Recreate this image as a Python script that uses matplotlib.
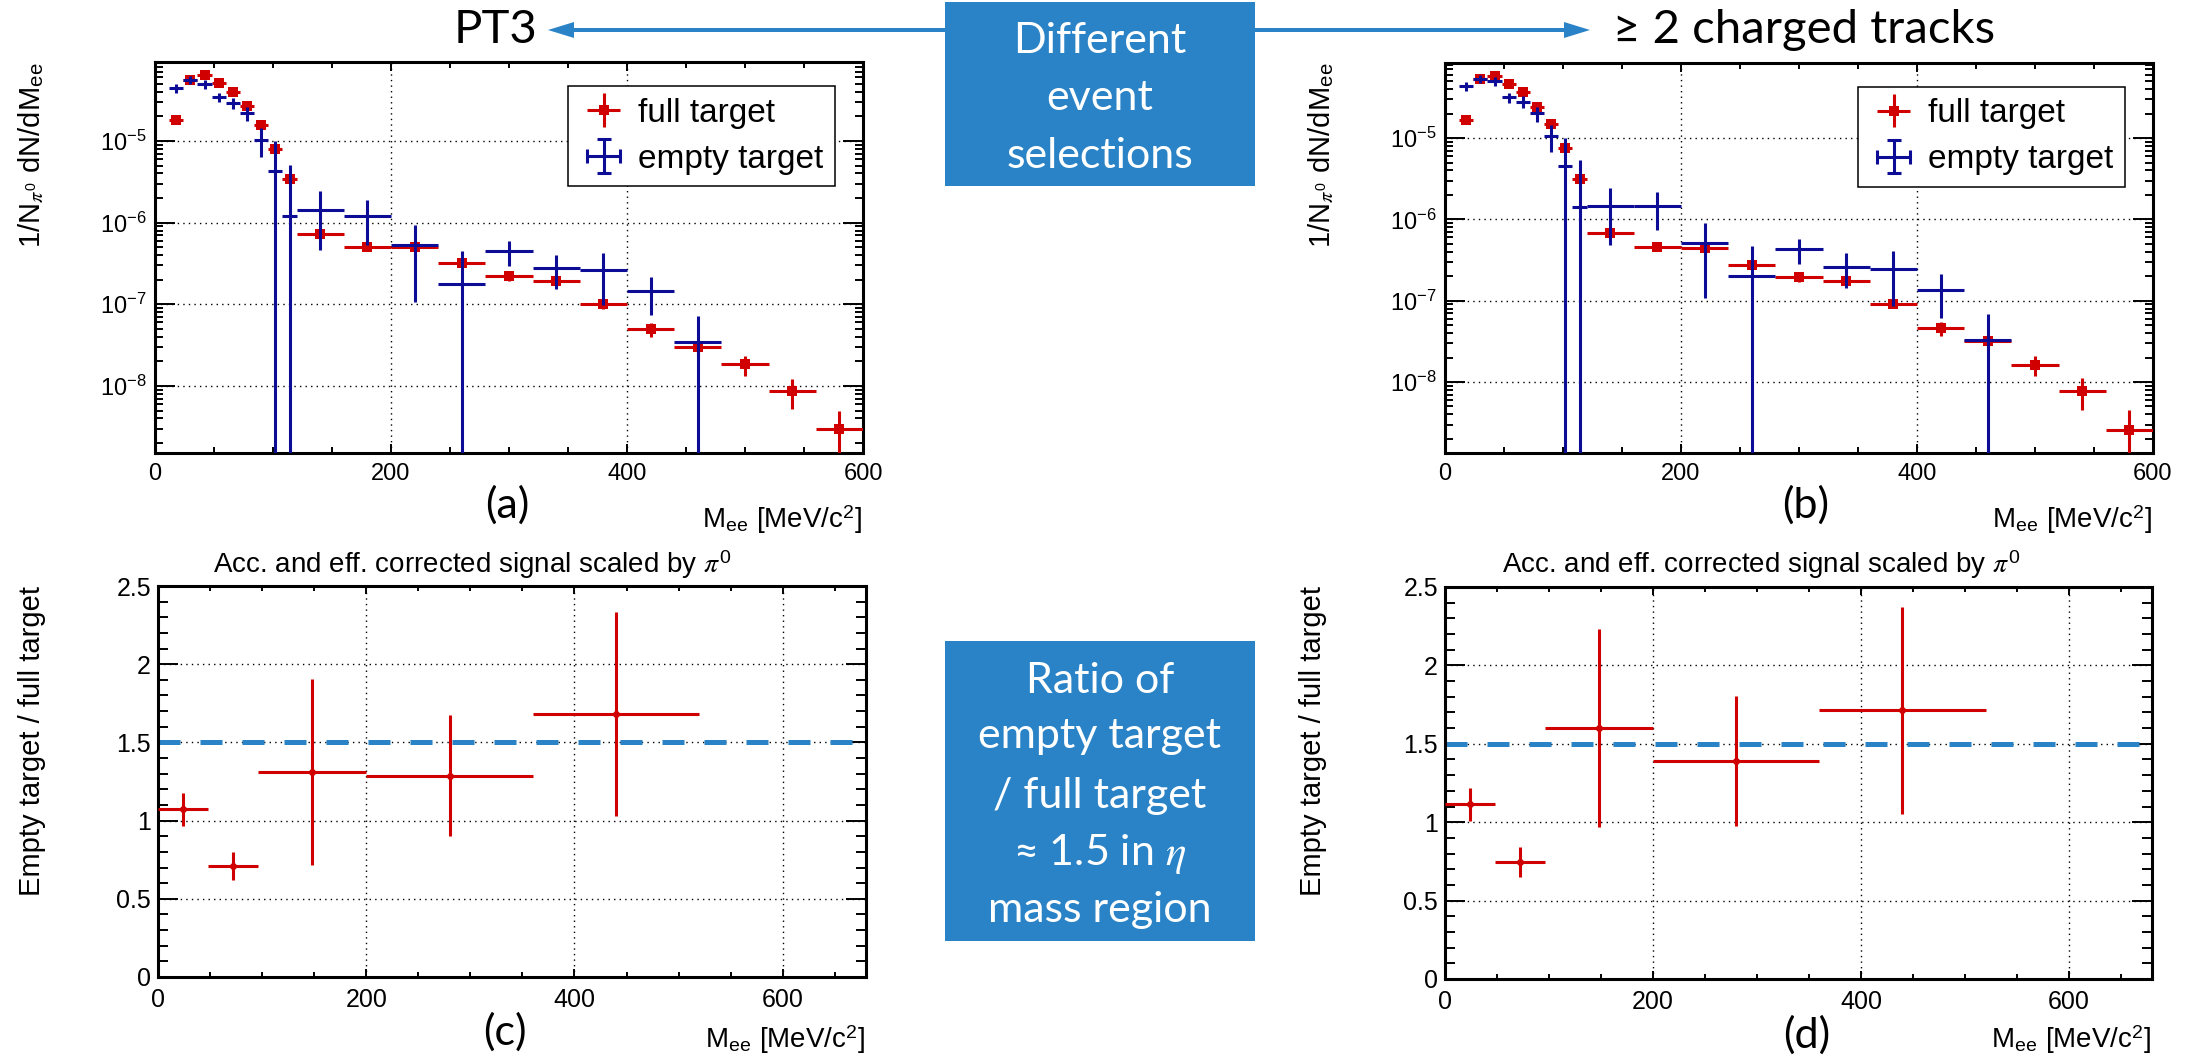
import numpy as np
import matplotlib
matplotlib.use('Agg')
import matplotlib.pyplot as plt
from matplotlib.patches import Rectangle, FancyArrow
from matplotlib.ticker import (LogLocator, LogFormatterSciNotation, MultipleLocator,
                               FuncFormatter, NullFormatter)

plt.rcParams['font.family'] = ['Liberation Sans', 'DejaVu Sans']
plt.rcParams['mathtext.fontset'] = 'stix'

W, H = 2191, 1058
RED = '#d10000'
BLUE = '#0c0c96'
ACCENT = '#2a83c6'
SLIDE_FONT = ['Lato', 'DejaVu Sans']

# M_ee bin centres and half widths [MeV/c^2]
mass = [18, 30, 42, 54, 66, 78, 90, 102, 114,
        140, 180, 220, 260, 300, 340, 380, 420, 460, 500, 540, 580]
half_width = [6, 6, 6, 6, 6, 6, 6, 6, 6,
              20, 20, 20, 20, 20, 20, 20, 20, 20, 20, 20, 20]

# PT3 selection
full_pt3 = [1.79e-5, 5.6e-5, 6.4e-5, 5.1e-5, 3.94e-5, 2.66e-5, 1.58e-5, 8.05e-6, 3.46e-6,
            7.33e-7, 5.04e-7, 5.0e-7, 3.18e-7, 2.2e-7, 1.91e-7, 1.0e-7, 4.98e-8, 2.96e-8,
            1.84e-8, 8.7e-9, 2.95e-9]
full_pt3_err = [6e-7, 1.7e-6, 1.9e-6, 1.5e-6, 1.2e-6, 9e-7, 6e-7, 4e-7, 2.4e-7,
                9e-8, 6e-8, 5e-8, 3.5e-8, 2.6e-8, 2.2e-8, 1.2e-8, 1.0e-8, 7e-9,
                5e-9, 3.5e-9, 2.0e-9]
empty_pt3 = [4.45e-5, 5.6e-5, 5.0e-5, 3.43e-5, 2.92e-5, 2.2e-5, 1.04e-5, 4.33e-6, 1.2e-6,
             1.44e-6, 1.22e-6, 5.27e-7, 1.79e-7, 4.5e-7, 2.76e-7, 2.64e-7, 1.46e-7, 3.48e-8]
empty_pt3_err = [6e-6, 6e-6, 6.5e-6, 4.3e-6, 4.7e-6, 4.4e-6, 4.0e-6, 5.6e-6, 3.9e-6,
                 9.8e-7, 6.9e-7, 4.2e-7, 2.75e-7, 1.53e-7, 1.22e-7, 1.66e-7, 7.2e-8, 3.7e-8]

# >= 2 charged tracks selection
full_trk = [1.66e-5, 5.26e-5, 5.83e-5, 4.66e-5, 3.68e-5, 2.43e-5, 1.47e-5, 7.46e-6, 3.1e-6,
            6.73e-7, 4.61e-7, 4.48e-7, 2.77e-7, 1.95e-7, 1.76e-7, 9.2e-8, 4.57e-8, 3.16e-8,
            1.63e-8, 7.8e-9, 2.6e-9]
full_trk_err = [5e-7, 1.6e-6, 1.8e-6, 1.4e-6, 1.1e-6, 8e-7, 6e-7, 4e-7, 2.2e-7,
                8e-8, 5e-8, 5e-8, 3.3e-8, 2.4e-8, 2.1e-8, 1.1e-8, 9e-9, 6.5e-9,
                4.5e-9, 3.3e-9, 1.9e-9]
empty_trk = [4.35e-5, 5.3e-5, 4.98e-5, 3.16e-5, 2.8e-5, 2.01e-5, 1.06e-5, 4.53e-6, 1.43e-6,
             1.47e-6, 1.46e-6, 5.07e-7, 2.03e-7, 4.28e-7, 2.62e-7, 2.47e-7, 1.36e-7, 3.3e-8]
empty_trk_err = [6e-6, 6e-6, 6e-6, 4.3e-6, 4.5e-6, 4.2e-6, 3.9e-6, 5.4e-6, 3.9e-6,
                 9.8e-7, 7.3e-7, 4.0e-7, 2.67e-7, 1.45e-7, 1.2e-7, 1.6e-7, 7.5e-8, 3.5e-8]

# empty / full ratio, coarse bins
ratio_mass = [24, 72, 148, 280, 440]
ratio_lo = [0, 48, 96, 200, 360]
ratio_hi = [48, 96, 200, 360, 520]
ratio_pt3 = [1.071, 0.71, 1.312, 1.286, 1.681]
ratio_pt3_err = [0.105, 0.09, 0.595, 0.387, 0.654]
ratio_trk = [1.115, 0.745, 1.60, 1.389, 1.715]
ratio_trk_err = [0.106, 0.094, 0.633, 0.413, 0.66]
ratio_level = 1.5
ratio_level_range = [0, 673]


def px_axes(fig, left, top, right, bottom):
    return fig.add_axes([left / W, 1 - bottom / H, (right - left) / W, (bottom - top) / H])


def style_frame(ax):
    for s in ax.spines.values():
        s.set_linewidth(2.2)
    ax.grid(True, which='major', color='k', lw=1.0, ls=(0, (1, 3)))
    ax.set_axisbelow(True)


def spectrum(ax, full, full_err, empty, empty_err, ylim):
    full = np.array(full)
    full_err = np.array(full_err)
    empty = np.array(empty)
    empty_err = np.array(empty_err)
    n = len(empty)
    # lower arms longer than the value run off the bottom of the log axis
    lo_f = np.minimum(full_err, full - 1e-14)
    lo_e = np.minimum(empty_err, empty - 1e-14)
    ax.errorbar(mass, full, xerr=half_width, yerr=[lo_f, full_err], fmt='s', color=RED,
                ms=6.5, mew=0, lw=2.2, capsize=0, zorder=3)
    ax.errorbar(mass[:n], empty, xerr=half_width[:n], yerr=[lo_e, empty_err], fmt='none',
                ecolor=BLUE, lw=2.2, capsize=0, zorder=4)

    ax.set_yscale('log')
    ax.set_xlim(0, 600)
    ax.set_ylim(*ylim)
    ax.xaxis.set_major_locator(MultipleLocator(200))
    ax.xaxis.set_minor_locator(MultipleLocator(50))
    ax.yaxis.set_major_locator(LogLocator(base=10, numticks=20))
    ax.yaxis.set_minor_locator(LogLocator(base=10, subs=np.arange(2, 10), numticks=20))
    ax.yaxis.set_major_formatter(LogFormatterSciNotation())
    ax.yaxis.set_minor_formatter(NullFormatter())
    ax.tick_params(which='both', direction='in', top=True, right=True, width=1.4,
                   labelsize=17)
    ax.tick_params(axis='x', which='major', length=6.5, pad=7)
    ax.tick_params(axis='x', which='minor', length=4.3)
    ax.tick_params(axis='y', which='major', length=14.4, pad=6)
    ax.tick_params(axis='y', which='minor', length=5.8)
    style_frame(ax)

    # legend proxies carry end caps like the ROOT legend symbols
    h_full = ax.errorbar([np.nan], [np.nan], xerr=[1], yerr=[1], fmt='s', color=RED,
                         ms=6.5, mew=0, lw=2.2, capsize=5, capthick=2.2)
    h_empty = ax.errorbar([np.nan], [np.nan], xerr=[1], yerr=[1], fmt='none', ecolor=BLUE,
                          lw=2.2, capsize=5, capthick=2.2)
    leg = ax.legend([h_full, h_empty], ['full target', 'empty target'], loc='upper left',
                    bbox_to_anchor=(0.583, 0.939), borderaxespad=0, fontsize=24,
                    handlelength=1.45, handletextpad=0.3, borderpad=0.35,
                    labelspacing=0.45, fancybox=False, framealpha=1)
    leg.get_frame().set_edgecolor('k')
    leg.get_frame().set_linewidth(1.1)


def ratio_panel(ax, vals, errs):
    xlo = [c - l for c, l in zip(ratio_mass, ratio_lo)]
    xhi = [h - c for c, h in zip(ratio_mass, ratio_hi)]
    ax.plot(ratio_level_range, [ratio_level, ratio_level], color=ACCENT, lw=3.6,
            dashes=(4.4, 4), zorder=2)
    ax.errorbar(ratio_mass, vals, xerr=[xlo, xhi], yerr=errs, fmt='o', color=RED,
                ms=5, mew=0, lw=2.2, capsize=0, zorder=3)
    ax.set_xlim(0, 680)
    ax.set_ylim(0, 2.5)
    ax.xaxis.set_major_locator(MultipleLocator(200))
    ax.xaxis.set_minor_locator(MultipleLocator(50))
    ax.yaxis.set_major_locator(MultipleLocator(0.5))
    ax.yaxis.set_minor_locator(MultipleLocator(0.1))
    ax.yaxis.set_major_formatter(FuncFormatter(lambda v, p: f'{v:g}'))
    ax.tick_params(which='both', direction='in', top=True, right=True, width=1.4,
                   labelsize=18)
    ax.tick_params(axis='x', which='major', length=6, pad=8)
    ax.tick_params(axis='x', which='minor', length=3.6)
    ax.tick_params(axis='y', which='major', length=14.4, pad=5)
    ax.tick_params(axis='y', which='minor', length=7.2)
    style_frame(ax)


fig = plt.figure(figsize=(W / 100, H / 100), dpi=100)

ax_a = px_axes(fig, 155, 62, 863, 453)
spectrum(ax_a, full_pt3, full_pt3_err, empty_pt3, empty_pt3_err, (1.51e-9, 9.27e-5))
ax_b = px_axes(fig, 1445, 63, 2153, 453)
spectrum(ax_b, full_trk, full_trk_err, empty_trk, empty_trk_err, (1.34e-9, 8.37e-5))
ax_c = px_axes(fig, 158, 586, 866, 977)
ratio_panel(ax_c, ratio_pt3, ratio_pt3_err)
ax_d = px_axes(fig, 1445, 587, 2152, 979)
ratio_panel(ax_d, ratio_trk, ratio_trk_err)

# annotation layer in pixel coordinates
ov = fig.add_axes([0, 0, 1, 1])
ov.set_xlim(0, W)
ov.set_ylim(H, 0)
ov.axis('off')

ylab_spec = r'1/N$_{\pi^{\mathdefault{0}}}$ dN/dM$_{\mathdefault{ee}}$'
ylab_ratio = 'Empty target / full target'
xlab = r'M$_{\mathdefault{ee}}$ [MeV/c$^{\mathdefault{2}}$]'
title_ratio = r'Acc. and eff. corrected signal scaled by $\pi^{\mathdefault{0}}$'

for x0, right in [(32, 863), (1322, 2153)]:
    ov.text(x0, 62, ylab_spec, rotation=90, ha='center', va='top', fontsize=21)
    ov.text(right, 520, xlab, ha='right', va='center', fontsize=20)
for x0, right, tx in [(32, 866, 472), (1313, 2152, 1761)]:
    ov.text(x0, 586, ylab_ratio, rotation=90, ha='center', va='top', fontsize=21)
    ov.text(right, 1040, xlab, ha='right', va='center', fontsize=20)
    ov.text(tx, 565, title_ratio, ha='center', va='center', fontsize=20)

for x0, y0, tag in [(507, 505, '(a)'), (1806, 505, '(b)'), (505, 1032, '(c)'), (1807, 1035, '(d)')]:
    ov.text(x0, y0, tag, ha='center', va='center', fontsize=31, family=SLIDE_FONT)

# selection headers with arrows out of the central box
ov.text(496, 30, 'PT3', ha='center', va='center', fontsize=34, family=SLIDE_FONT)
ov.text(1804, 30, '\u2265 2 charged tracks', ha='center', va='center', fontsize=34,
        family=SLIDE_FONT)
ov.add_patch(FancyArrow(945, 30, 548 - 945, 0, width=4, head_width=16, head_length=26,
                        length_includes_head=True, color=ACCENT, lw=0))
ov.add_patch(FancyArrow(1255, 30, 1590 - 1255, 0, width=4, head_width=16, head_length=26,
                        length_includes_head=True, color=ACCENT, lw=0))

ov.add_patch(Rectangle((945, 2), 310, 184, facecolor=ACCENT, edgecolor='none'))
for y0, line in [(53, 'Different'), (110, 'event'), (168, 'selections')]:
    ov.text(1100, y0, line, ha='center', va='baseline', fontsize=31, color='white',
            family=SLIDE_FONT)

ov.add_patch(Rectangle((945, 641), 310, 300, facecolor=ACCENT, edgecolor='none'))
for y0, line in [(693, 'Ratio of'), (748, 'empty target'), (808, '/ full target'),
                 (865, '\u2248 1.5 in $\\eta$'), (922, 'mass region')]:
    ov.text(1100, y0, line, ha='center', va='baseline', fontsize=31, color='white',
            family=SLIDE_FONT)

fig.savefig('out.png', dpi=100)
